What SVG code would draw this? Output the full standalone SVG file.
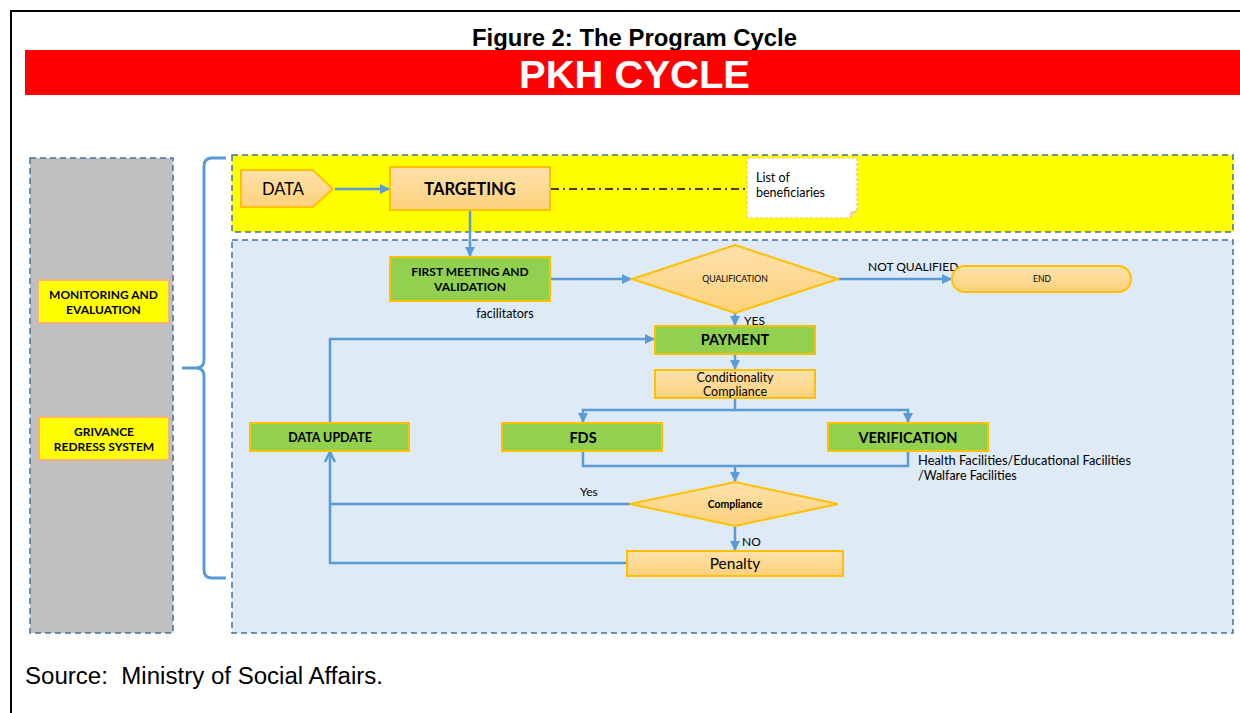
<svg xmlns="http://www.w3.org/2000/svg" width="1240" height="713" viewBox="0 0 1240 713">
<style>
.panel{stroke:#41719c;stroke-width:1.5;stroke-dasharray:6 4}
.green{fill:#92d050;stroke:#ffc000;stroke-width:2}
.orange{fill:url(#og);stroke:#ffc000;stroke-width:2}
.yel{fill:#ffff00;stroke:#f4b183;stroke-width:2}
.con{fill:none;stroke:#5b9bd5;stroke-width:2.5}
.t{font-family:Lato,"Open Sans","Liberation Sans",sans-serif;fill:#000}
.b{font-weight:bold}
</style>
<defs>
<linearGradient id="og" x1="0" y1="0" x2="0" y2="1">
<stop offset="0" stop-color="#fee1ab"/>
<stop offset="1" stop-color="#fdd17c"/>
</linearGradient>
<marker id="ar" viewBox="0 0 10 10" refX="9" refY="5" markerWidth="4" markerHeight="4" orient="auto" markerUnits="strokeWidth">
<path d="M0,0 L10,5 L0,10 z" fill="#5b9bd5"/>
</marker>
<marker id="ao" viewBox="0 0 10 10" refX="9" refY="5" markerWidth="5" markerHeight="5" orient="auto" markerUnits="strokeWidth">
<path d="M1,1 L9,5 L1,9" fill="none" stroke="#5b9bd5" stroke-width="2"/>
</marker>
</defs>
<rect width="1240" height="713" fill="#fff"/>
<path d="M11,713 V11 H1240" fill="none" stroke="#000" stroke-width="2"/>
<text x="472" y="46" textLength="325" lengthAdjust="spacingAndGlyphs" font-family="Liberation Sans,Arial,sans-serif" font-weight="bold" font-size="23">Figure 2: The Program Cycle</text>
<rect x="25" y="50" width="1215" height="45" fill="#ff0000"/>
<text x="519" y="88" textLength="231" lengthAdjust="spacingAndGlyphs" font-family="Liberation Sans,Arial,sans-serif" font-weight="bold" font-size="38" fill="#fff">PKH CYCLE</text>

<g id="side-panel">
<rect class="panel" x="30" y="158" width="143" height="475" fill="#bfbfbf"/>
</g>
<g id="monitoring">
<rect class="yel" x="38" y="280" width="131" height="43"/>
<text class="t b" x="103.5" y="299" text-anchor="middle" font-size="12">MONITORING AND</text>
<text class="t b" x="103.5" y="314" text-anchor="middle" font-size="12">EVALUATION</text>
</g>
<g id="grievance">
<rect class="yel" x="39" y="417" width="130" height="43"/>
<text class="t b" x="104" y="436" text-anchor="middle" font-size="12">GRIVANCE</text>
<text class="t b" x="104" y="451" text-anchor="middle" font-size="12">REDRESS SYSTEM</text>
</g>
<g id="brace">
<path d="M226,158 H212 Q204,158 204,166 V360 Q204,368 196,368 H182 M196,368 Q204,368 204,376 V570 Q204,578 212,578 H226" fill="none" stroke="#5b9bd5" stroke-width="3"/>
</g>
<g id="targeting-band">
<rect class="panel" x="232" y="155" width="1001" height="77" fill="#ffff00"/>
</g>
<g id="process-panel">
<rect class="panel" x="232" y="240" width="1001" height="393" fill="#deeaf6"/>
</g>

<g id="connectors">
<line class="con" x1="335" y1="189" x2="389" y2="189" marker-end="url(#ar)"/>
<line x1="551" y1="189" x2="746" y2="189" stroke="#000" stroke-width="1.5" stroke-dasharray="8 4 2 4"/>
<line class="con" x1="470" y1="210" x2="470" y2="256" marker-end="url(#ar)"/>
<line class="con" x1="550" y1="279" x2="631" y2="279" marker-end="url(#ar)"/>
<line class="con" x1="838" y1="279" x2="951" y2="279" marker-end="url(#ar)"/>
<line class="con" x1="735" y1="313" x2="735" y2="325" marker-end="url(#ar)"/>
<line class="con" x1="735" y1="354" x2="735" y2="369" marker-end="url(#ar)"/>
<polyline class="con" points="735,398 735,410 583,410 583,422" marker-end="url(#ar)"/>
<polyline class="con" points="735,410 908,410 908,422" marker-end="url(#ar)"/>
<polyline class="con" points="583,451 583,466 908,466 908,451"/>
<line class="con" x1="735" y1="466" x2="735" y2="481" marker-end="url(#ar)"/>
<line class="con" x1="630" y1="504" x2="330" y2="504"/>
<line class="con" x1="735" y1="526" x2="735" y2="550" marker-end="url(#ar)"/>
<polyline class="con" points="627,563 330,563 330,452" marker-end="url(#ao)"/>
<polyline class="con" points="330,423 330,339 654,339" marker-end="url(#ar)"/>
<text class="t" x="868" y="271" font-size="12">NOT QUALIFIED</text>
<text class="t" x="744" y="325" font-size="12">YES</text>
<text class="t" x="580" y="496" font-size="12">Yes</text>
<text class="t" x="742" y="546" font-size="12">NO</text>
</g>

<g id="data">
<path class="orange" d="M241,170 H313 L333,189 L313,207 H241 z"/>
<text class="t" x="283" y="195" text-anchor="middle" font-size="16.5">DATA</text>
</g>
<g id="targeting">
<rect class="orange" x="390" y="167" width="160" height="43"/>
<text class="t b" x="470" y="195" text-anchor="middle" font-size="16.5">TARGETING</text>
</g>
<g id="list-beneficiaries">
<path d="M747,158 H857 V211 L850,218 H747 z" fill="#fff" stroke="#f9c25a" stroke-width="1.2" stroke-dasharray="3 2"/>
<path d="M850,218 L851,212 L857,211" fill="#ddd" stroke="#f9c25a" stroke-width="1"/>
<text class="t" x="756" y="182" font-size="12.5">List of</text>
<text class="t" x="756" y="197" font-size="12.5">beneficiaries</text>
</g>
<g id="first-meeting">
<rect class="green" x="390" y="257" width="160" height="44"/>
<text class="t b" x="470" y="276" text-anchor="middle" font-size="12">FIRST MEETING AND</text>
<text class="t b" x="470" y="291" text-anchor="middle" font-size="12">VALIDATION</text>
<text class="t" x="505" y="318" text-anchor="middle" font-size="12.5">facilitators</text>
</g>
<g id="qualification">
<path class="orange" d="M735,245 L838,279 L735,313 L632,279 z"/>
<text class="t" x="735" y="282" text-anchor="middle" font-size="8.7">QUALIFICATION</text>
</g>
<g id="end">
<rect class="orange" x="952" y="266" width="179" height="26" rx="13"/>
<text class="t" x="1042" y="282" text-anchor="middle" font-size="8.5">END</text>
</g>
<g id="payment">
<rect class="green" x="655" y="326" width="160" height="28"/>
<text class="t b" x="735" y="345" text-anchor="middle" font-size="14.5">PAYMENT</text>
</g>
<g id="conditionality">
<rect class="orange" x="655" y="370" width="160" height="28"/>
<text class="t" x="735" y="382" text-anchor="middle" font-size="12.5">Conditionality</text>
<text class="t" x="735" y="396" text-anchor="middle" font-size="12.5">Compliance</text>
</g>
<g id="data-update">
<rect class="green" x="250" y="423" width="159" height="28"/>
<text class="t b" x="330" y="442" text-anchor="middle" font-size="12.5">DATA UPDATE</text>
</g>
<g id="fds">
<rect class="green" x="502" y="423" width="160" height="28"/>
<text class="t b" x="583" y="443" text-anchor="middle" font-size="14.5">FDS</text>
</g>
<g id="verification">
<rect class="green" x="828" y="423" width="160" height="28"/>
<text class="t b" x="908" y="443" text-anchor="middle" font-size="14.5">VERIFICATION</text>
<text class="t" x="918" y="465" font-size="12.5" textLength="213" lengthAdjust="spacingAndGlyphs">Health Facilities/Educational Facilities</text>
<text class="t" x="918" y="480" font-size="12.5">/Walfare Facilities</text>
</g>
<g id="compliance">
<path class="orange" d="M735,482 L838,504 L735,526 L630,504 z"/>
<text class="t b" x="735" y="508" text-anchor="middle" font-size="10.5">Compliance</text>
</g>
<g id="penalty">
<rect class="orange" x="627" y="551" width="216" height="25"/>
<text class="t" x="735" y="569" text-anchor="middle" font-size="15.5">Penalty</text>
</g>
<text x="25" y="684" xml:space="preserve" textLength="358" lengthAdjust="spacingAndGlyphs" font-family="Liberation Sans,Arial,sans-serif" font-size="23">Source:  Ministry of Social Affairs.</text>
</svg>
